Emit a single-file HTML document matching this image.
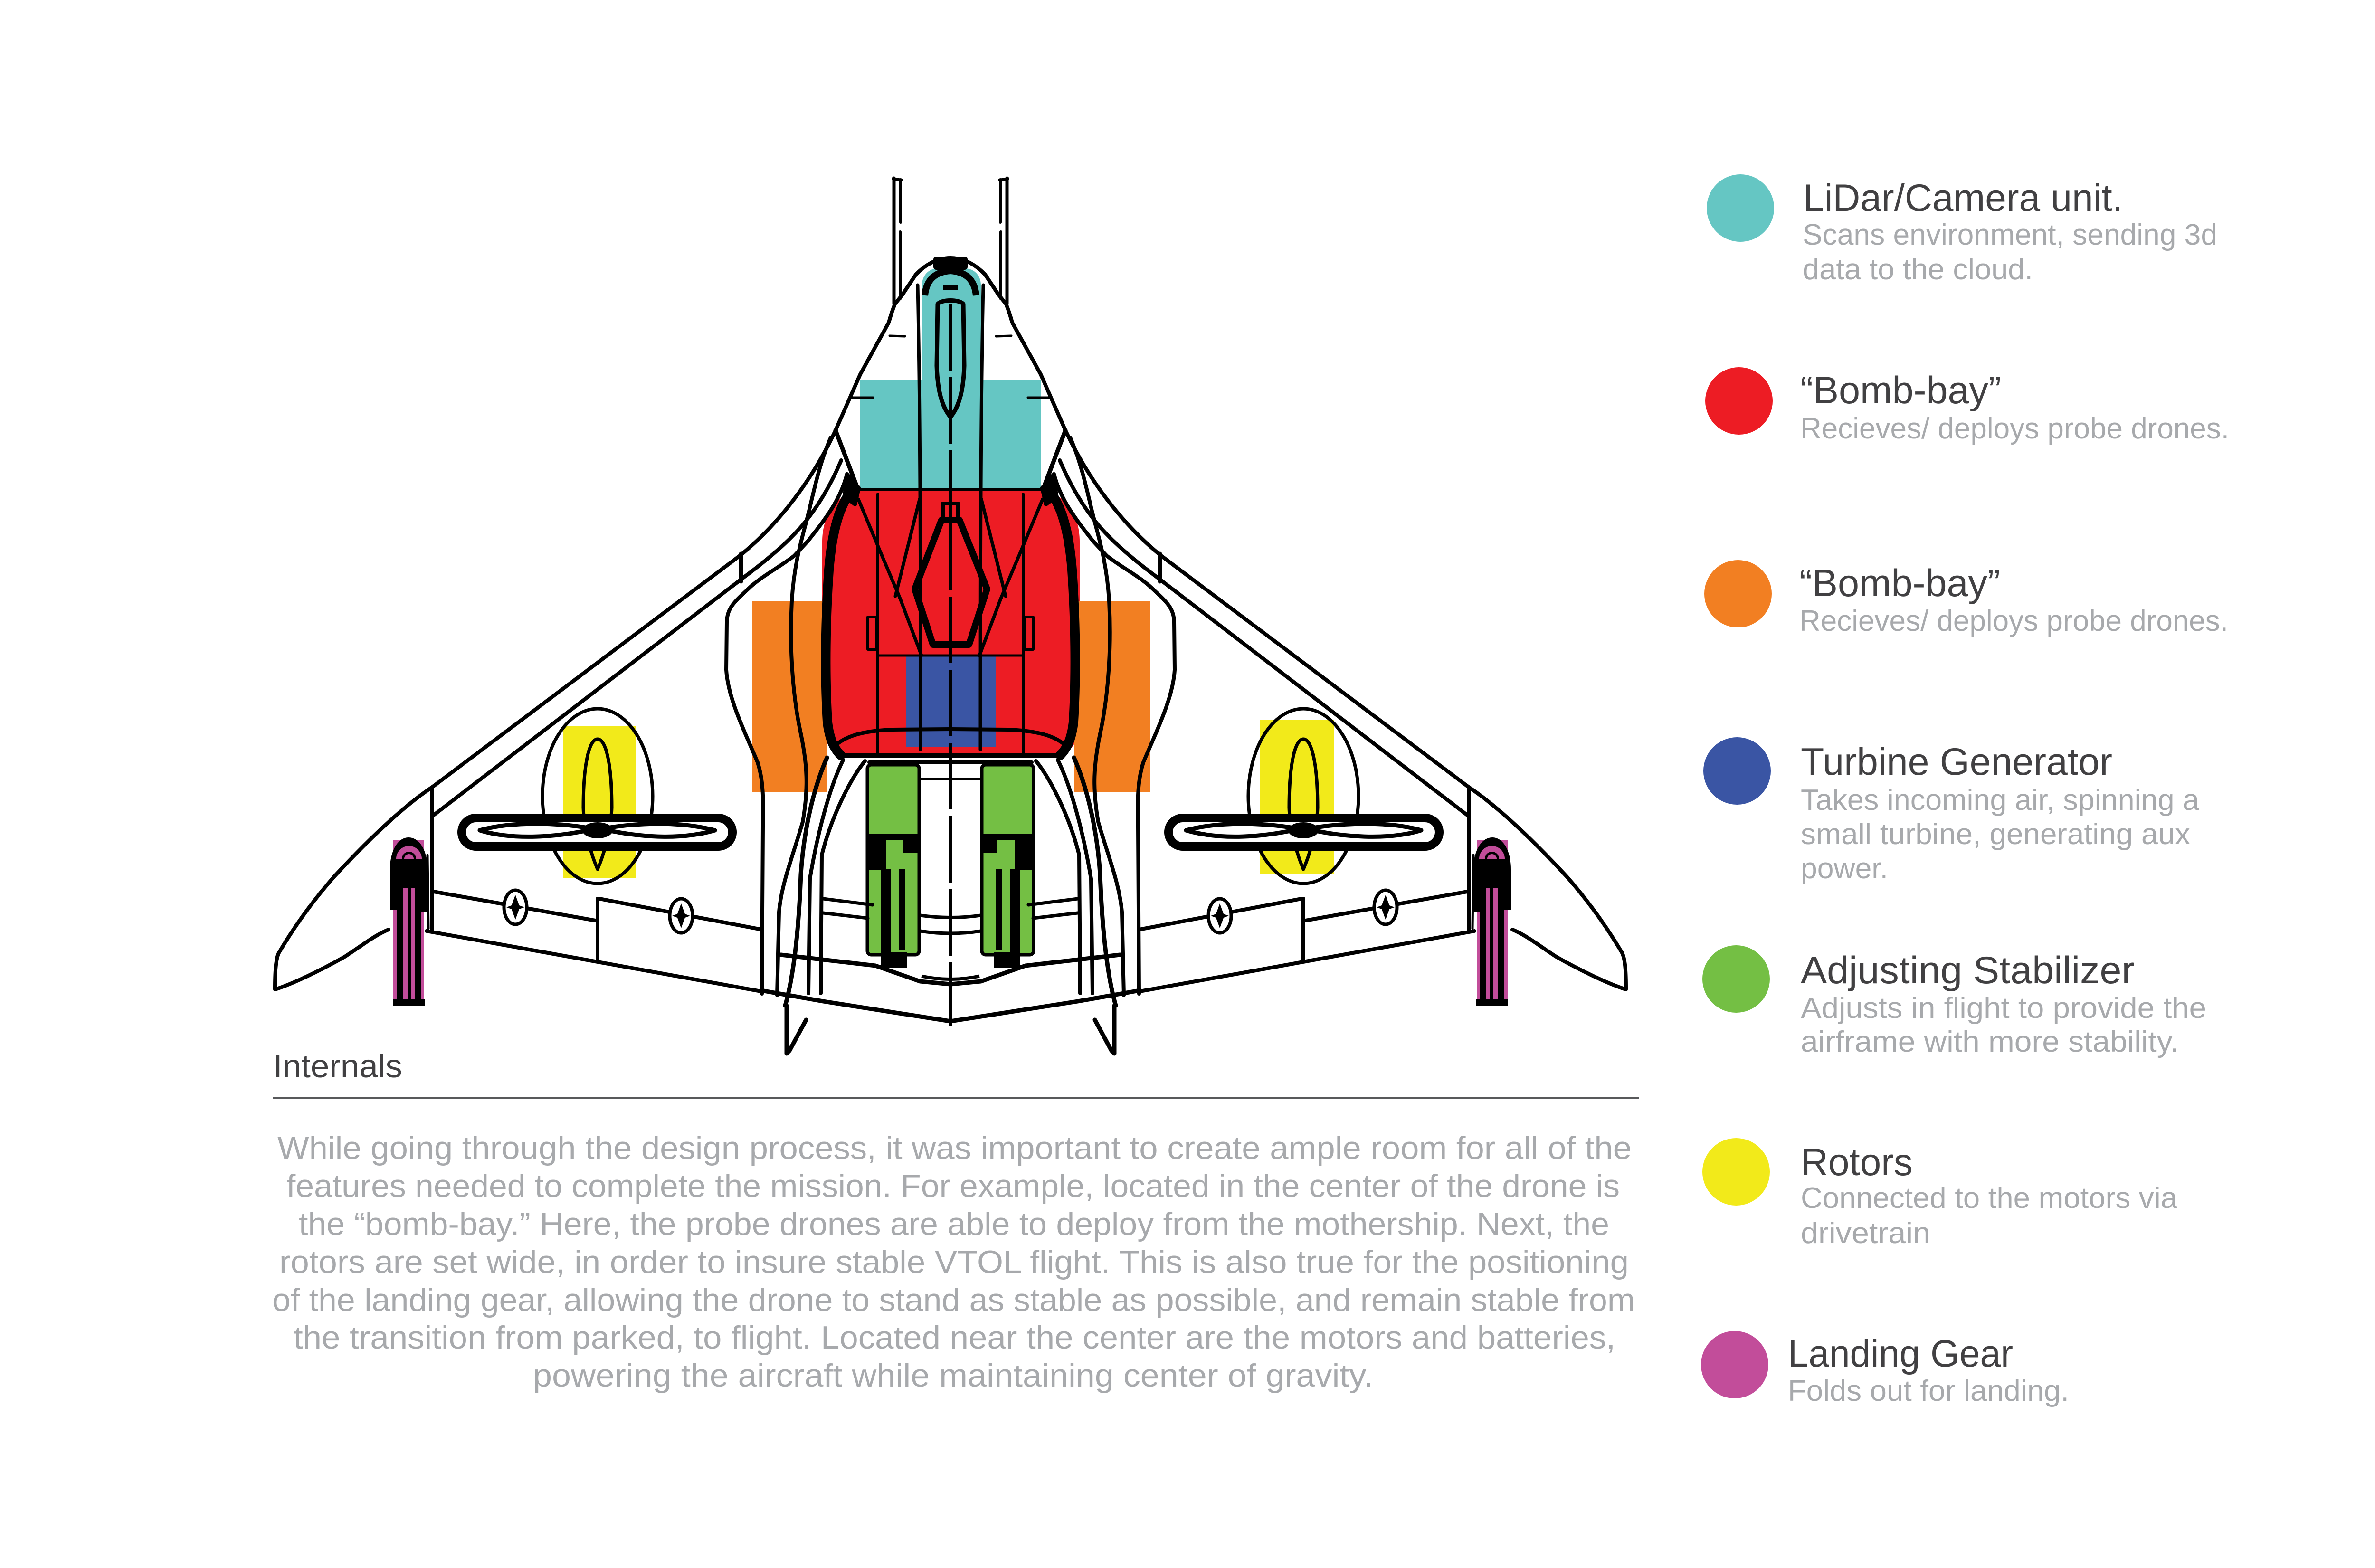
<!DOCTYPE html>
<html>
<head>
<meta charset="utf-8">
<style>
  html,body{margin:0;padding:0;background:#fff;}
  body{width:5101px;height:3301px;overflow:hidden;}
  svg{display:block;}
  text{font-family:"Liberation Sans",sans-serif;}
</style>
</head>
<body>
<svg xmlns="http://www.w3.org/2000/svg" width="5101" height="3301" viewBox="0 0 5101 3301">
  <rect x="0" y="0" width="5101" height="3301" fill="#ffffff"/>

  <!-- ============ COLOURED BLOCKS (behind line art) ============ -->
  <rect x="1811" y="801" width="381" height="231" fill="#65c6c3"/>
  <path d="M1941,600 C1941,580 1955,565 1975,565 L2031,565 C2051,565 2065,580 2065,600 L2065,1032 L1941,1032 Z" fill="#65c6c3"/>
  <path d="M1811,1031 L2192,1031 C2245,1040 2273,1085 2273,1140 L2273,1520 C2273,1560 2252,1590 2225,1590 L1778,1590 C1752,1590 1731,1560 1731,1520 L1731,1140 C1731,1085 1760,1040 1811,1031 Z" fill="#ed1c24"/>
  <rect x="1583" y="1265" width="158" height="402" fill="#f27f22"/>
  <rect x="2262" y="1265" width="159" height="402" fill="#f27f22"/>
  <rect x="1908" y="1380" width="188" height="192" fill="#3a55a4"/>
  <rect x="1826" y="1610" width="109" height="400" fill="#74bf44"/>
  <rect x="2067" y="1610" width="109" height="400" fill="#74bf44"/>
  <rect x="1185" y="1528" width="154" height="321" fill="#f2ea1a"/>
  <rect x="2652" y="1515" width="156" height="324" fill="#f2ea1a"/>
  <rect x="827" y="1768" width="65" height="350" fill="#c24d9a"/>
  <rect x="3110" y="1768" width="65" height="350" fill="#c24d9a"/>

  <!-- ============ LEFT HALF LINE ART (mirrored for right) ============ -->
  <g id="half" fill="none" stroke="#000" stroke-width="8" stroke-linejoin="round" stroke-linecap="round">
    <path d="M1882,375 L1882,640" stroke-width="7"/>
    <path d="M1896,378 L1896,468 M1895,488 L1896,628" stroke-width="6"/>
    <path d="M1880,376 L1898,379" stroke-width="6"/>
    <path d="M2001,543 C1970,543 1945,560 1928,578 L1900,620 L1884,640 C1878,655 1874,668 1871,679 L1811,788 L1759,906"/>
    <path d="M1759,906 L1805,1027" stroke-width="9"/>
    <path d="M1783,998 L1808,1027 L1800,1062 L1778,1045 Z" fill="#000"/>
    <path d="M1759,906 C1722,985 1660,1085 1560,1168 L910,1657"/>
    <path d="M1771,969 C1745,1030 1715,1075 1690,1105 C1660,1140 1620,1175 1565,1216 L913,1716"/>
    <path d="M1560,1166 L1560,1224" stroke-width="9"/>
    <path d="M1749,921 C1725,975 1712,1040 1703,1076 C1690,1130 1672,1180 1667,1265 C1662,1360 1668,1460 1685,1540 C1700,1610 1702,1660 1690,1730 C1670,1800 1645,1860 1640,1920 L1636,2095"/>
    <path d="M1783,998 C1770,1050 1740,1090 1700,1140 L1672,1170 C1640,1195 1600,1215 1575,1240 C1545,1268 1531,1280 1530,1310 L1529,1410 C1532,1470 1570,1545 1595,1605 C1608,1645 1607,1690 1606,1740 L1604,2092"/>
    <path d="M910,1657 L910,1960"/>
    <path d="M910,1657 C860,1690 790,1752 703,1846 C660,1895 620,1950 587,2006 C580,2020 579,2050 579,2083 C620,2070 680,2040 726,2014 C760,1992 790,1968 818,1957"/>
    <path d="M913,1877 L1254,1938 M1258,1892 L1258,2022 M1262,1892 L1604,1957"/>
    <path d="M898,1960 L1602,2087"/>
    <ellipse cx="1085" cy="1910" rx="24" ry="36" fill="#fff" stroke-width="7"/>
    <path d="M1085,1884 L1093,1906 L1104,1910 L1093,1914 L1085,1936 L1077,1914 L1066,1910 L1077,1906 Z" fill="#000" stroke="none"/>
    <ellipse cx="1434" cy="1928" rx="24" ry="36" fill="#fff" stroke-width="7"/>
    <path d="M1434,1902 L1442,1924 L1453,1928 L1442,1932 L1434,1954 L1426,1932 L1415,1928 L1426,1924 Z" fill="#000" stroke="none"/>
    <ellipse cx="1258" cy="1676" rx="116" ry="184" stroke-width="7"/>
    <path d="M1258,1556 C1278,1556 1288,1620 1288,1700 C1287,1740 1275,1790 1258,1830 C1241,1790 1229,1740 1228,1700 C1228,1620 1238,1556 1258,1556 Z" stroke-width="7"/>
    <rect x="972" y="1722" width="570" height="60" rx="30" ry="30" fill="#fff" stroke-width="18"/>
    <path d="M1010,1748 C1080,1728 1180,1732 1250,1745 C1180,1762 1080,1770 1010,1748 Z" fill="#fff" stroke-width="9"/>
    <path d="M1266,1745 C1340,1732 1430,1728 1505,1748 C1430,1770 1340,1762 1266,1745 Z" fill="#fff" stroke-width="9"/>
    <ellipse cx="1258" cy="1748" rx="32" ry="17" fill="#000" stroke="none"/>
    <path d="M821,1870 L821,1830 C821,1790 838,1763 860,1763 C883,1763 900,1790 900,1830 L900,1870 Z" fill="#000" stroke="none"/>
    <rect x="821" y="1868" width="15" height="47" fill="#000" stroke="none"/>
    <rect x="886" y="1868" width="14" height="52" fill="#000" stroke="none"/>
    <rect x="836" y="1868" width="13" height="242" fill="#000" stroke="none"/>
    <rect x="858" y="1868" width="7" height="242" fill="#000" stroke="none"/>
    <rect x="874" y="1868" width="13" height="242" fill="#000" stroke="none"/>
    <rect x="828" y="2104" width="67" height="14" fill="#000" stroke="none"/>
    <path d="M834,1808 A27,27 0 0 1 888,1808 L876,1808 A15,15 0 0 0 846,1808 Z" fill="#c24d9a" stroke="none"/>
    <path d="M851,1808 A10,10 0 0 1 871,1808 Z" fill="#c24d9a" stroke="none"/>
    <path d="M900,1800 L902,1955" stroke-width="5"/>
    <path d="M1932,600 C1936,800 1938,1000 1938,1578" stroke-width="7"/>
    <path d="M1795,1030 C1770,1060 1752,1110 1745,1200 C1738,1300 1736,1420 1742,1520 C1746,1555 1755,1575 1770,1590" stroke-width="20"/>
    <path d="M1807,1051 L1856,1168 L1895,1260 L1940,1380" stroke-width="7"/>
    <path d="M1936,1051 L1885,1255" stroke-width="7"/>
    <path d="M1848,1040 L1848,1590" stroke-width="6"/>
    <rect x="1827" y="1299" width="19" height="68" stroke-width="6"/>
    <path d="M1764,1565 C1790,1545 1830,1538 1880,1536 L2001,1535" stroke-width="8"/>
    <path d="M1770,1590 L2001,1590" stroke-width="10"/>
    <path d="M1830,1605 L2001,1605" stroke-width="8"/>
    <path d="M1848,1380 L2001,1380" stroke-width="5"/>
    <path d="M1805,1031 L2001,1031" stroke-width="6"/>
    <!-- bay arches -->
    <path d="M1741,1595 C1712,1660 1692,1750 1686,1840 C1682,1950 1672,2050 1653,2117" stroke-width="9"/>
    <path d="M1775,1600 C1745,1660 1720,1760 1705,1850 L1702,2091"/>
    <path d="M1821,1602 C1790,1640 1750,1720 1730,1800 L1728,2091"/>
    <path d="M1733,1892 L1837,1905 M1733,1922 L1827,1933" stroke-width="7"/>
    <!-- chevrons -->
    <path d="M1644,2010 L1843,2033 L1937,2066 L2001,2072" stroke-width="9"/>
    <path d="M1602,2085 L1733,2108 L1937,2140 L2001,2150" stroke-width="9"/>
    <!-- tail prong -->
    <path d="M1656,2117 L1656,2218 L1662,2212 L1697,2147" stroke-width="9"/>
    <!-- green detail -->
    <rect x="1826" y="1610" width="109" height="400" rx="8" stroke-width="7"/>
    <rect x="1826" y="1756" width="40" height="75" fill="#000" stroke="none"/>
    <rect x="1902" y="1756" width="33" height="40" fill="#000" stroke="none"/>
    <rect x="1866" y="1756" width="36" height="12" fill="#000" stroke="none"/>
    <rect x="1855" y="1830" width="20" height="185" fill="#000" stroke="none"/>
    <rect x="1893" y="1830" width="12" height="170" fill="#000" stroke="none"/>
    <rect x="1855" y="2005" width="55" height="32" fill="#000" stroke="none"/>
    <path d="M1935,1640 L2001,1640" stroke-width="6"/>
    <path d="M1792,837 L1838,837" stroke-width="5"/>
    <path d="M1873,707 L1905,708" stroke-width="5"/>
  </g>
  <use href="#half" transform="translate(4002,0) scale(-1,1)"/>

  <!-- ============ CENTRE LINE ART ============ -->
  <g fill="none" stroke="#000" stroke-width="8" stroke-linejoin="round">
    <path d="M2001,640 L2001,2160" stroke-width="6" stroke-dasharray="140 14"/>
    <rect x="1965" y="540" width="72" height="28" rx="6" fill="#000" stroke="none"/>
    <path d="M1947,622 C1950,588 1970,572 2001,570 C2032,572 2052,588 2055,622" stroke-width="14"/>
    <path d="M1974,640 L1972,770 C1974,835 1988,862 2001,878 C2014,862 2028,835 2030,770 L2028,640 C2020,630 1982,630 1974,640 Z" stroke-width="9"/>
    <path d="M1985,605 L2017,605" stroke-width="10"/>
    <path d="M2001,878 L2001,915" stroke-width="7"/>
    <rect x="1985" y="1060" width="32" height="35" stroke-width="8"/>
    <path d="M1982,1095 L2020,1095 L2078,1240 L2040,1357 L1964,1357 L1926,1240 Z" stroke-width="14"/>
    <path d="M1937,1927 Q2001,1936 2065,1927" stroke-width="7"/>
    <path d="M1937,1960 Q2001,1970 2065,1960" stroke-width="7"/>
    <path d="M1940,2055 Q2001,2068 2062,2055" stroke-width="7"/>
  </g>

  <!-- ============ CAPTION ============ -->
  <text x="575" y="2268" font-size="69" fill="#414042" textLength="272" lengthAdjust="spacingAndGlyphs">Internals</text>
  <rect x="574" y="2309" width="2876" height="4" fill="#58595b"/>

  <g font-size="68" fill="#a7a9ac">
    <text x="584" y="2440" textLength="2851" lengthAdjust="spacingAndGlyphs">While going through the design process, it was important to create ample room for all of the</text>
    <text x="603" y="2520" textLength="2807" lengthAdjust="spacingAndGlyphs">features needed to complete the mission. For example, located in the center of the drone is</text>
    <text x="629" y="2600" textLength="2759" lengthAdjust="spacingAndGlyphs">the “bomb-bay.” Here, the probe drones are able to deploy from the mothership. Next, the</text>
    <text x="588" y="2680" textLength="2841" lengthAdjust="spacingAndGlyphs">rotors are set wide, in order to insure stable VTOL flight. This is also true for the positioning</text>
    <text x="573" y="2760" textLength="2869" lengthAdjust="spacingAndGlyphs">of the landing gear, allowing the drone to stand as stable as possible, and remain stable from</text>
    <text x="618" y="2839" textLength="2783" lengthAdjust="spacingAndGlyphs">the transition from parked, to flight. Located near the center are the motors and batteries,</text>
    <text x="1122" y="2919" textLength="1769" lengthAdjust="spacingAndGlyphs">powering the aircraft while maintaining center of gravity.</text>
  </g>

  <!-- ============ LEGEND ============ -->
  <circle cx="3664" cy="438" r="71" fill="#65c6c3"/>
  <circle cx="3661" cy="844" r="71" fill="#ed1c24"/>
  <circle cx="3659" cy="1250" r="71" fill="#f27f22"/>
  <circle cx="3657" cy="1623" r="71" fill="#3a55a4"/>
  <circle cx="3655" cy="2061" r="71" fill="#74bf44"/>
  <circle cx="3655" cy="2467" r="71" fill="#f2ea1a"/>
  <circle cx="3652" cy="2873" r="71" fill="#c24d9a"/>

  <g font-size="81" fill="#414042">
    <text x="3796" y="444" textLength="673" lengthAdjust="spacingAndGlyphs">LiDar/Camera unit.</text>
    <text x="3790" y="849" textLength="423" lengthAdjust="spacingAndGlyphs">“Bomb-bay”</text>
    <text x="3788" y="1255" textLength="423" lengthAdjust="spacingAndGlyphs">“Bomb-bay”</text>
    <text x="3791" y="1631" textLength="656" lengthAdjust="spacingAndGlyphs">Turbine Generator</text>
    <text x="3791" y="2070" textLength="703" lengthAdjust="spacingAndGlyphs">Adjusting Stabilizer</text>
    <text x="3791" y="2474" textLength="236" lengthAdjust="spacingAndGlyphs">Rotors</text>
    <text x="3764" y="2877" textLength="474" lengthAdjust="spacingAndGlyphs">Landing Gear</text>
  </g>
  <g font-size="62" fill="#a7a9ac">
    <text x="3795" y="515" textLength="873" lengthAdjust="spacingAndGlyphs">Scans environment, sending 3d</text>
    <text x="3795" y="588" textLength="485" lengthAdjust="spacingAndGlyphs">data to the cloud.</text>
    <text x="3790" y="923" textLength="903" lengthAdjust="spacingAndGlyphs">Recieves/ deploys probe drones.</text>
    <text x="3788" y="1328" textLength="903" lengthAdjust="spacingAndGlyphs">Recieves/ deploys probe drones.</text>
    <text x="3791" y="1705" textLength="839" lengthAdjust="spacingAndGlyphs">Takes incoming air, spinning a</text>
    <text x="3791" y="1777" textLength="820" lengthAdjust="spacingAndGlyphs">small turbine, generating aux</text>
    <text x="3791" y="1849" textLength="184" lengthAdjust="spacingAndGlyphs">power.</text>
    <text x="3791" y="2143" textLength="854" lengthAdjust="spacingAndGlyphs">Adjusts in flight to provide the</text>
    <text x="3791" y="2214" textLength="796" lengthAdjust="spacingAndGlyphs">airframe with more stability.</text>
    <text x="3791" y="2543" textLength="793" lengthAdjust="spacingAndGlyphs">Connected to the motors via</text>
    <text x="3791" y="2617" textLength="273" lengthAdjust="spacingAndGlyphs">drivetrain</text>
    <text x="3764" y="2949" textLength="592" lengthAdjust="spacingAndGlyphs">Folds out for landing.</text>
  </g>
</svg>
</body>
</html>
